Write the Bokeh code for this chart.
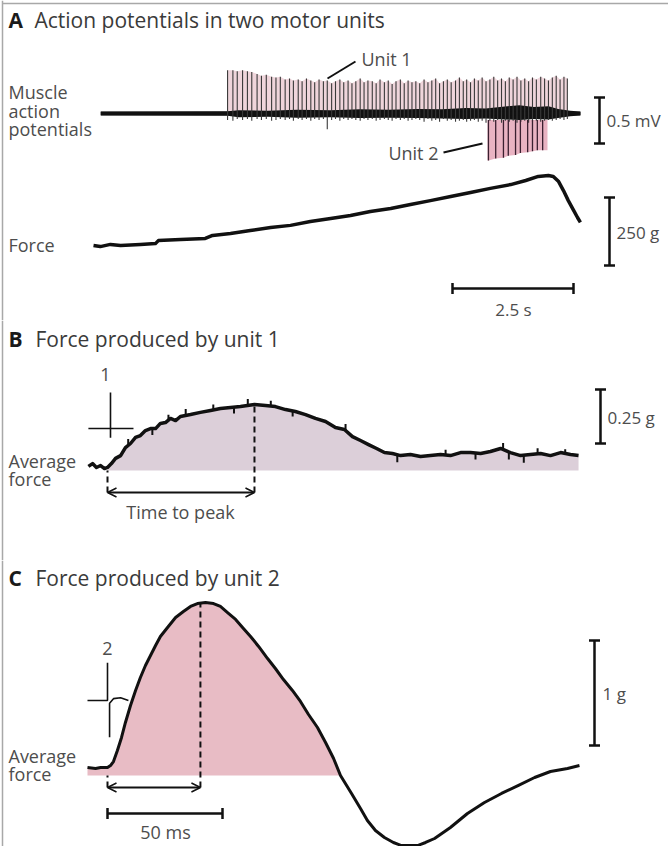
import numpy as np
from bokeh.plotting import figure
from bokeh.layouts import column
from bokeh.models import Range1d, Label, Arrow, OpenHead
from bokeh.embed import file_html
from bokeh.resources import INLINE

# ======================= DATA =======================
# ---- Panel A: muscle action potentials (time s, voltage mV) ----
emg_span_s = [0.15, 10.06]
unit1_t = [2.77, 2.88, 2.97, 3.08, 3.18, 3.27, 3.38, 3.47, 3.57, 3.68, 3.77, 3.86,
           3.96, 4.05, 4.13, 4.23, 4.31, 4.40, 4.49, 4.57, 4.66, 4.75, 4.83, 4.92,
           5.00, 5.09, 5.17, 5.26, 5.34, 5.42, 5.51, 5.59, 5.67, 5.76, 5.84, 5.92,
           6.01, 6.09, 6.17, 6.25, 6.34, 6.42, 6.50, 6.58, 6.66, 6.74, 6.83, 6.91,
           6.99, 7.07, 7.15, 7.23, 7.31, 7.39, 7.48, 7.56, 7.64, 7.71, 7.79, 7.87,
           7.95, 8.03, 8.11, 8.19, 8.27, 8.35, 8.43, 8.51, 8.59, 8.67, 8.75, 8.83,
           8.91, 8.99, 9.07, 9.15, 9.24, 9.32, 9.40, 9.48, 9.56, 9.64, 9.72, 9.79]
unit1_mv = [0.47, 0.47, 0.46, 0.47, 0.46, 0.45, 0.43, 0.41, 0.42, 0.40, 0.39, 0.40,
            0.37, 0.38, 0.36, 0.37, 0.35, 0.38, 0.36, 0.34, 0.37, 0.35, 0.36, 0.33,
            0.35, 0.37, 0.34, 0.36, 0.33, 0.35, 0.38, 0.34, 0.36, 0.35, 0.33, 0.37,
            0.34, 0.36, 0.32, 0.35, 0.37, 0.33, 0.36, 0.34, 0.35, 0.33, 0.37, 0.34,
            0.36, 0.38, 0.33, 0.35, 0.37, 0.34, 0.36, 0.39, 0.35, 0.37, 0.34, 0.38,
            0.36, 0.39, 0.35, 0.37, 0.40, 0.36, 0.38, 0.35, 0.39, 0.37, 0.40, 0.36,
            0.38, 0.35, 0.39, 0.37, 0.40, 0.38, 0.36, 0.39, 0.41, 0.37, 0.40, 0.38]
unit1_neg_mv = [0.07, 0.08, 0.06, 0.07, 0.06, 0.08, 0.06, 0.07, 0.06, 0.08, 0.07, 0.06,
                0.07, 0.06, 0.08, 0.06, 0.07, 0.06, 0.08, 0.06, 0.07, 0.06, 0.17, 0.07,
                0.06, 0.08, 0.06, 0.07, 0.06, 0.07, 0.08, 0.06, 0.07, 0.06, 0.08, 0.07,
                0.06, 0.07, 0.08, 0.06, 0.07, 0.06, 0.08, 0.07, 0.06, 0.07, 0.09, 0.06,
                0.08, 0.07, 0.09, 0.06, 0.08, 0.07, 0.09, 0.08, 0.07, 0.09, 0.08, 0.07,
                0.09, 0.08, 0.10, 0.08, 0.09, 0.07, 0.10, 0.08, 0.09, 0.08, 0.10, 0.09,
                0.08, 0.10, 0.09, 0.08, 0.09, 0.08, 0.07, 0.08, 0.07, 0.06, 0.07, 0.06]
unit2_t = [8.16, 8.31, 8.47, 8.57, 8.72, 8.82, 8.97, 9.07, 9.17, 9.28]
unit2_mv = [-0.51, -0.49, -0.48, -0.46, -0.45, -0.43, -0.42, -0.41, -0.40, -0.40]
unit2_span_s = [8.14, 9.38]
unit2_top_mv = -0.07
noise_t = [0.15, 2.77, 3.0, 3.6, 4.2, 4.9, 5.5, 6.1, 6.7, 7.2, 7.7, 8.1, 8.5,
           8.8, 9.1, 9.4, 9.6, 9.85, 10.06]
noise_hi = [0.022, 0.025, 0.035, 0.03, 0.04, 0.035, 0.045, 0.04, 0.05, 0.045, 0.06, 0.055,
            0.075, 0.09, 0.07, 0.08, 0.05, 0.03, 0.022]
noise_lo = [-0.022, -0.025, -0.04, -0.035, -0.045, -0.04, -0.05, -0.045, -0.05, -0.055,
            -0.06, -0.055, -0.065, -0.07, -0.06, -0.065, -0.05, -0.03, -0.022]
# force during the contraction (time s, force g)
forceA_s = [0.00, 0.14, 0.35, 0.56, 0.97, 1.28, 1.34, 1.80, 2.31, 2.46, 2.83, 3.24,
            3.66, 4.07, 4.48, 4.90, 5.31, 5.72, 6.14, 6.55, 6.96, 7.38, 7.79, 8.20,
            8.62, 8.93, 9.19, 9.40, 9.50, 9.61, 9.71, 9.81, 9.92, 10.00, 10.06]
forceA_g = [0, -4, 4, 0, 4, 7, 18, 22, 26, 37, 44, 55,
            66, 74, 88, 99, 110, 125, 136, 151, 165, 180, 195, 210,
            224, 239, 254, 257, 254, 235, 202, 165, 129, 103, 85]
barA_mv = 0.5
barA_g = 250
barA_s = 2.5

# ---- Panel B: average force of unit 1 (time ms, force g) ----
forceB_ms = [-8.3, -6.5, -4.8, -3.0, -1.3, 0.0, 1.7, 3.5, 5.7, 7.8, 10.0, 12.2,
             14.3, 16.5, 18.7, 20.9, 23.0, 25.2, 27.4, 29.6, 31.7, 36.1, 40.4, 44.8,
             49.1, 53.5, 57.8, 63.9, 68.7, 73.0, 77.4, 81.7, 86.1, 90.4, 94.8, 99.1,
             103.0, 106.5, 110.0, 113.5, 117.0, 120.4, 123.9, 127.4, 131.7, 136.1, 140.4, 144.8,
             149.1, 153.5, 157.8, 162.2, 166.5, 170.9, 175.2, 179.6, 183.9, 188.3, 192.6, 197.0,
             201.3, 204.8]
forceB_g = [0.019, 0.032, 0.014, 0.023, 0.009, 0.014, 0.032, 0.056, 0.069, 0.106, 0.125, 0.153,
            0.162, 0.185, 0.194, 0.194, 0.218, 0.222, 0.241, 0.231, 0.250, 0.259, 0.269, 0.278,
            0.287, 0.292, 0.296, 0.306, 0.301, 0.296, 0.282, 0.273, 0.259, 0.241, 0.227, 0.199,
            0.190, 0.157, 0.139, 0.120, 0.102, 0.083, 0.079, 0.069, 0.074, 0.065, 0.069, 0.074,
            0.069, 0.083, 0.083, 0.079, 0.088, 0.102, 0.083, 0.069, 0.074, 0.079, 0.069, 0.083,
            0.074, 0.069]
# short noise excursions on the unit-1 average (time ms, excursion g)
jitterB_ms = [9.0, 19.5, 26.5, 34.0, 46.0, 55.0, 61.0, 71.0, 80.5, 103.5, 126.0, 147.0,
              160.0, 172.0, 174.5, 181.0, 187.0, 199.0]
jitterB_g = [0.03, -0.03, 0.025, 0.03, 0.025, -0.03, 0.03, 0.025, -0.025, 0.03, -0.035, 0.025,
             -0.03, 0.03, -0.035, -0.035, 0.025, 0.02]
peakB_ms = 63.9
apB_ms = [-8.3, 1.3, 1.3, 1.3, 1.3, 11.3]
apB_mv = [0.0, 0.0, 0.39, -0.10, 0.0, 0.0]
barB_g = 0.25

# ---- Panel C: average force of unit 2 (time ms, force g) ----
forceC_ms = [-8.7, -5.2, -3.0, 0.0, 1.3, 2.6, 4.3, 6.1, 7.8, 10.0, 12.2, 14.3,
             16.5, 18.7, 20.9, 23.0, 26.1, 29.6, 33.0, 36.1, 39.1, 42.6, 46.1, 49.1,
             52.2, 55.7, 59.1, 62.2, 65.7, 69.6, 73.0, 76.5, 80.4, 83.9, 87.4, 91.3,
             94.8, 98.3, 101.3, 106.1, 110.0, 113.0, 116.5, 120.4, 124.3, 127.8, 131.7, 134.8,
             138.3, 142.2, 149.1, 156.5, 163.9, 171.3, 178.7, 185.7, 192.6, 200.0, 205.2]
forceC_g = [0.076, 0.067, 0.076, 0.076, 0.095, 0.133, 0.238, 0.362, 0.505, 0.667, 0.810, 0.933,
            1.048, 1.143, 1.238, 1.324, 1.410, 1.505, 1.562, 1.610, 1.638, 1.648, 1.638, 1.610,
            1.552, 1.486, 1.400, 1.324, 1.229, 1.114, 1.019, 0.914, 0.810, 0.705, 0.581, 0.457,
            0.314, 0.162, 0.0, -0.171, -0.314, -0.429, -0.524, -0.590, -0.638, -0.667, -0.667, -0.667,
            -0.638, -0.600, -0.495, -0.362, -0.257, -0.171, -0.095, -0.019, 0.038, 0.067, 0.095]
peakC_ms = 40.4
apC1_ms = [-8.7, 0.0, 0.0, 0.0]
apC1_mv = [0.0, 0.0, 0.41, 0.0]
apC2_ms = [0.9, 0.9, 2.6, 5.7, 9.1]
apC2_mv = [-0.40, -0.03, 0.02, 0.03, 0.0]
barC_g = 1.0
barC_ms = 50

# ======================= LAYOUT / STYLE =======================
FONT = "Open Sans"
TXT = "#4d4d4d"
TITLE = "#3a3a3a"
INK = "#111111"
FRAME = "#a8a8a8"
LEFT, RIGHT = 0, 668


class Panel:
    def __init__(self, top, bottom, x0, kx, ys):
        self.top, self.bottom, self.x0, self.kx, self.ys = top, bottom, x0, kx, ys
        names = list(ys)
        self.main = names[0]
        self.fig = figure(width=RIGHT - LEFT, height=bottom - top,
                          x_range=Range1d((LEFT - x0) / kx, (RIGHT - x0) / kx),
                          y_range=Range1d(*self._yr(self.main)),
                          output_backend="svg", toolbar_location=None, min_border=0,
                          x_axis_location=None, y_axis_location=None)
        self.fig.extra_y_ranges = {n: Range1d(*self._yr(n)) for n in names[1:]}
        self.fig.grid.visible = False
        self.fig.outline_line_color = None
        self.fig.background_fill_color = "white"
        self.fig.border_fill_color = "white"
        # grey page frame on the left edge
        self.fig.line([self.X(2), self.X(2)], [self.Y(top), self.Y(bottom)],
                      line_width=1.5, line_color=FRAME)

    def _yr(self, n):
        y0, k = self.ys[n]
        return ((y0 - self.bottom) / k, (y0 - self.top) / k)

    def X(self, px):
        return (px - self.x0) / self.kx

    def Y(self, py, n=None):
        y0, k = self.ys[n or self.main]
        return (y0 - py) / k

    def rn(self, n=None):
        n = n or self.main
        return "default" if n == self.main else n


def text(P, px, py, s, align="left", size="18px", color=TXT, style="normal", n=None):
    P.fig.add_layout(Label(x=P.X(px), y=P.Y(py, n), y_range_name=P.rn(n), text=s,
                           text_align=align, text_baseline="middle", text_font=FONT,
                           text_font_size=size, text_color=color, text_font_style=style))


def vbar(P, x, y0, y1, n=None):
    r = P.rn(n)
    P.fig.segment(x, y0, x, y1, line_width=2.5, line_color=INK, y_range_name=r)
    P.fig.scatter([x, x], [y0, y1], marker="dash", size=11, line_width=2.5,
                  line_color=INK, y_range_name=r)


def hbar(P, x0, x1, y, n=None):
    r = P.rn(n)
    P.fig.segment(x0, y, x1, y, line_width=2.5, line_color=INK, y_range_name=r)
    P.fig.scatter([x0, x1], [y, y], marker="dash", angle=np.pi / 2, size=11,
                  line_width=2.5, line_color=INK, y_range_name=r)


def bracket(P, peak_ms, peak_g, py):
    yb = P.Y(py)
    P.fig.segment(peak_ms, yb, peak_ms, peak_g, line_width=2, line_color=INK, line_dash="6 4")
    P.fig.segment(0, yb, 0, 0, line_width=2, line_color=INK, line_dash="6 4")
    P.fig.add_layout(Arrow(x_start=0, y_start=yb, x_end=peak_ms, y_end=yb,
                           line_width=2, line_color=INK,
                           start=OpenHead(size=9, line_width=1.5, line_color=INK),
                           end=OpenHead(size=9, line_width=1.5, line_color=INK)))


# ---------------- Panel A ----------------
A = Panel(0, 320, 93, 48.4, {"mv": (113, 92), "force": (245, 0.272)})
pa = A.fig
pa.line([A.X(2), A.X(668)], [A.Y(3), A.Y(3)], line_width=1.5, line_color=FRAME)
pa.varea(x=unit1_t, y1=0, y2=unit1_mv, fill_color="#efd5db")
u2x = [unit2_span_s[0]] + unit2_t + [unit2_span_s[1]]
u2y = [unit2_mv[0]] + unit2_mv + [unit2_mv[-1]]
pa.varea(x=u2x, y1=unit2_top_mv, y2=u2y, fill_color="#e9b3c2")
pa.varea(x=noise_t, y1=noise_lo, y2=noise_hi, fill_color=INK)
pa.line(emg_span_s, [0, 0], line_width=3.5, line_color=INK)
pa.segment(unit1_t, [-v for v in unit1_neg_mv], unit1_t, unit1_mv,
           line_width=1.1, line_color="#3a3a3a")
pa.segment(unit2_t, unit2_top_mv, unit2_t, unit2_mv, line_width=1.3, line_color="#3a2030")
pa.line(forceA_s, forceA_g, y_range_name="force", line_width=3.5, line_color=INK,
        line_join="round")
pa.line([A.X(327), A.X(355)], [A.Y(78), A.Y(61)], line_width=2, line_color=INK)
pa.line([A.X(443), A.X(482)], [A.Y(152), A.Y(143)], line_width=2, line_color=INK)

vbar(A, A.X(599), A.Y(143), A.Y(143) + barA_mv)
vbar(A, A.X(609), A.Y(265, "force"), A.Y(265, "force") + barA_g, "force")
hbar(A, A.X(452), A.X(452) + barA_s, A.Y(288, "force"), "force")

text(A, 8, 19, "A", size="21px", color="#1a1a1a", style="bold")
text(A, 34, 19, "Action potentials in two motor units", size="21px", color=TITLE)
text(A, 8, 91, "Muscle")
text(A, 8, 110, "action")
text(A, 8, 128, "potentials")
text(A, 8, 244, "Force")
text(A, 361, 58, "Unit 1")
text(A, 438, 152, "Unit 2", align="right")
text(A, 606, 120, "0.5 mV", size="17px")
text(A, 616, 232, "250 g", size="17px")
text(A, 513, 309, "2.5 s", align="center", size="17px")

# ---------------- Panel B ----------------
B = Panel(320, 560, 107, 2.3, {"g": (470, 216), "ap": (428, 92)})
pb = B.fig
tb = np.array(forceB_ms)
gb = np.array(forceB_g)
mask = tb >= 0
pb.varea(x=tb[mask], y1=0, y2=gb[mask], fill_color="#dccfd9")
jb = np.interp(jitterB_ms, tb, gb)
pb.segment(jitterB_ms, jb, jitterB_ms, jb + np.array(jitterB_g), line_width=2, line_color=INK)
pb.line(forceB_ms, forceB_g, line_width=3.5, line_color=INK, line_join="round")
pb.line(apB_ms, apB_mv, y_range_name="ap", line_width=1.6, line_color=INK)
bracket(B, peakB_ms, float(np.interp(peakB_ms, tb, gb)), 492)
vbar(B, B.X(600), B.Y(443), B.Y(443) + barB_g)

text(B, 8, 338, "B", size="21px", color="#1a1a1a", style="bold")
text(B, 35, 338, "Force produced by unit 1", size="21px", color=TITLE)
text(B, 105, 374, "1", align="center")
text(B, 8, 460, "Average")
text(B, 8, 478, "force")
text(B, 180, 511, "Time to peak", align="center")
text(B, 607, 417, "0.25 g", size="17px")

# ---------------- Panel C ----------------
C = Panel(560, 846, 107, 2.3, {"g": (775, 105), "ap": (700, 92)})
pc = C.fig
tc = np.array(forceC_ms)
gc = np.array(forceC_g)
cross = int(np.argmax((tc > peakC_ms) & (gc <= 0)))
pc.varea(x=tc[:cross + 1], y1=0, y2=gc[:cross + 1], fill_color="#e8bcc5")
pc.line(forceC_ms, forceC_g, line_width=3, line_color=INK, line_join="round")
pc.line(apC1_ms, apC1_mv, y_range_name="ap", line_width=1.6, line_color=INK)
pc.line(apC2_ms, apC2_mv, y_range_name="ap", line_width=1.6, line_color=INK)
bracket(C, peakC_ms, float(np.interp(peakC_ms, tc, gc)), 787)
hbar(C, 0, barC_ms, C.Y(813))
vbar(C, C.X(594), C.Y(745), C.Y(745) + barC_g)

text(C, 8, 577, "C", size="21px", color="#1a1a1a", style="bold")
text(C, 35, 577, "Force produced by unit 2", size="21px", color=TITLE)
text(C, 107, 648, "2", align="center")
text(C, 8, 755, "Average")
text(C, 8, 773, "force")
text(C, 165, 831, "50 ms", align="center")
text(C, 602, 693, "1 g", size="17px")

layout = column(pa, pb, pc, spacing=0)
open("out.html", "w").write(file_html(layout, INLINE))
